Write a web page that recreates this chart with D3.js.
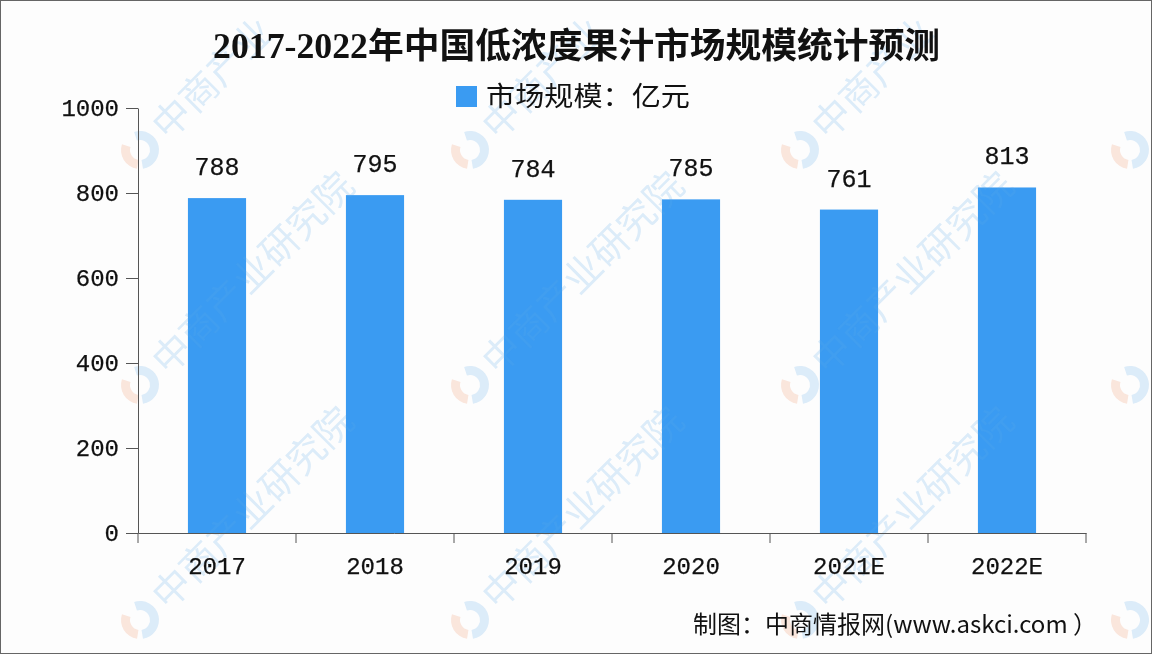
<!DOCTYPE html>
<html>
<head>
<meta charset="utf-8">
<script src="https://cdn.jsdelivr.net/npm/d3@7/dist/d3.min.js"></script>
<style>
  html, body { margin: 0; padding: 0; background: #fdfdfd; }
  svg { display: block; }
</style>
</head>
<body>
<svg id="chart" width="1152" height="654"></svg>
<script>
const categories = ["2017", "2018", "2019", "2020", "2021E", "2022E"];
const values = [788, 795, 784, 785, 761, 813];
const yTicks = [0, 200, 400, 600, 800, 1000];
const titleText = "2017-2022年中国低浓度果汁市场规模统计预测";
const legendText = "市场规模：亿元";
const sourceText = "制图：中商情报网(www.askci.com ）";
const watermarkText = "中商产业研究院";
const watermarkTop = "中商产业";

const W = 1152, H = 654;
const svg = d3.select("#chart");
const numFont = "'Liberation Mono', 'DejaVu Sans Mono', monospace";
const cjkFont = "'Noto Sans CJK SC', sans-serif";

svg.append("rect").attr("x", 0).attr("y", 0).attr("width", W).attr("height", H).attr("fill", "#fdfdfd");

const x = d3.scaleBand().domain(categories).range([138, 1086]).padding(0);
const y = d3.scaleLinear().domain([0, 1000]).range([533, 108]);
const barW = x.bandwidth() * 0.368;

function drawWatermarks(layer, opacity) {
  const wmCols = [140, 470, 800, 1130];
  const wmRows = [150, 385, 620];
  const wm = layer.append("g").attr("pointer-events", "none").attr("opacity", opacity);
  wmRows.forEach((ry, ri) => wmCols.forEach((cx, ci) => {
    const g = wm.append("g").attr("transform", `translate(${cx},${ry}) rotate(-45)`);
    const arc = d3.arc().innerRadius(10).outerRadius(19);
    g.append("path").attr("d", arc({startAngle: Math.PI * 0.15, endAngle: Math.PI * 1.2})).attr("fill", "#5aa8e8");
    g.append("path").attr("d", arc({startAngle: Math.PI * 1.3, endAngle: Math.PI * 1.85})).attr("fill", "#f08a5a");
    if (ci < wmCols.length - 1) {
      g.append("text").attr("x", 26).attr("y", 14)
        .attr("font-family", cjkFont).attr("font-size", 38)
        .attr("fill", "#5aa8e8").text(ri === 0 ? watermarkTop : watermarkText);
    }
  }));
}

// bars
svg.append("g").selectAll("rect").data(values).join("rect")
  .attr("x", (d, i) => x(categories[i]) + x.bandwidth() / 2 - barW / 2)
  .attr("y", d => y(d))
  .attr("width", barW)
  .attr("height", d => y(0) - y(d))
  .attr("fill", "#3a9bf2");

drawWatermarks(svg, 0.2);

// data labels
svg.append("g").selectAll("text").data(values).join("text")
  .attr("x", (d, i) => x(categories[i]) + x.bandwidth() / 2)
  .attr("y", d => y(d) - 23)
  .attr("text-anchor", "middle")
  .attr("font-family", numFont)
  .attr("font-size", 25)
  .attr("fill", "#111").attr("stroke", "#111").attr("stroke-width", 0.25)
  .text(d => d);

// y axis
const yAxis = svg.append("g").attr("transform", "translate(138,0)")
  .call(d3.axisLeft(y).tickValues(yTicks).tickFormat(d3.format("d")).tickSize(12).tickSizeOuter(0).tickPadding(7));
yAxis.selectAll("text").attr("font-family", numFont).attr("font-size", 24)
  .attr("fill", "#111").attr("stroke", "#111").attr("stroke-width", 0.25);
yAxis.selectAll("line, path").attr("stroke", "#555");

// x axis
const xAxis = svg.append("g").attr("transform", "translate(0,533)")
  .call(d3.axisBottom(x).tickSize(0).tickSizeOuter(0).tickPadding(24));
xAxis.selectAll("text").attr("font-family", numFont).attr("font-size", 24)
  .attr("fill", "#111").attr("stroke", "#111").attr("stroke-width", 0.25);
xAxis.select("path").attr("stroke", "#555");
const bounds = categories.map(c => x(c)).concat([x(categories[categories.length - 1]) + x.bandwidth()]);
xAxis.append("g").selectAll("line").data(bounds).join("line")
  .attr("x1", d => d).attr("x2", d => d).attr("y1", 0).attr("y2", 10)
  .attr("stroke", "#555");

// title
svg.append("text")
  .attr("x", 213).attr("y", 58)
  .attr("textLength", 727).attr("lengthAdjust", "spacingAndGlyphs")
  .attr("font-family", "'Liberation Serif', 'Noto Sans CJK SC', serif")
  .attr("font-weight", "bold")
  .attr("font-size", 35)
  .attr("fill", "#111")
  .text(titleText);

// legend
svg.append("rect").attr("x", 456).attr("y", 86).attr("width", 21).attr("height", 21).attr("fill", "#3a9bf2");
svg.append("text")
  .attr("x", 486).attr("y", 106)
  .attr("textLength", 204).attr("lengthAdjust", "spacingAndGlyphs")
  .attr("font-family", cjkFont)
  .attr("font-size", 27)
  .attr("fill", "#111")
  .text(legendText);

// source
svg.append("text")
  .attr("x", 693).attr("y", 633)
  .attr("textLength", 404).attr("lengthAdjust", "spacingAndGlyphs")
  .attr("font-family", cjkFont)
  .attr("font-size", 24)
  .attr("fill", "#111")
  .text(sourceText);

// border
svg.append("rect").attr("x", 0.5).attr("y", 0.5).attr("width", W - 1).attr("height", H - 1)
  .attr("fill", "none").attr("stroke", "#666");
</script>
</body>
</html>
